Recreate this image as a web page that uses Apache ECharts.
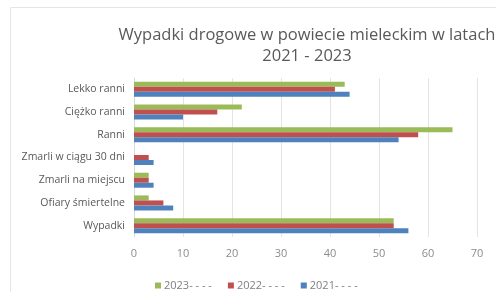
<!DOCTYPE html>
<html><head><meta charset="utf-8">
<script src="https://cdn.jsdelivr.net/npm/echarts@6/dist/echarts.min.js"></script>
<style>html,body{margin:0;padding:0;background:#fff}#c{width:496px;height:292px}</style>
</head><body><div id="c"></div>
<script>
const categories = ['Wypadki', 'Ofiary śmiertelne', 'Zmarli na miejscu', 'Zmarli w ciągu 30 dni', 'Ranni', 'Ciężko ranni', 'Lekko ranni'];
const seriesNames = ['2021- - - -', '2022- - - -', '2023- - - -'];
const values2021 = [56, 8, 4, 4, 54, 10, 44];
const values2022 = [53, 6, 3, 3, 58, 17, 41];
const values2023 = [53, 3, 3, 0, 65, 22, 43];
const xTicks = [0, 70, 10];

const chart = echarts.init(document.getElementById('c'), null, {renderer: 'canvas'});
const font = 'Open Sans';
chart.setOption({
  animation: false,
  title: {
    text: 'Wypadki drogowe w powiecie mieleckim w latach\n2021 - 2023',
    left: 302, top: 20, textAlign: 'center',
    textStyle: {fontFamily: font, fontSize: 16.5, fontWeight: 'normal', color: '#595959', lineHeight: 21}
  },
  graphic: [{type: 'polyline', shape: {points: [[10.5, 292], [10.5, 7.5], [496, 7.5]]}, style: {stroke: '#e6e6e6', lineWidth: 1, fill: null}}],
  legend: {
    data: [seriesNames[2], seriesNames[1], seriesNames[0]],
    left: 150, top: 275, itemWidth: 6, itemHeight: 6, itemGap: 16,
    icon: 'rect',
    textStyle: {fontFamily: font, fontSize: 11, color: '#7f7f7f', padding: [0, 0, 0, -2]}
  },
  grid: {left: 134, right: 19, top: 78, bottom: 55},
  xAxis: {
    type: 'value', min: xTicks[0], max: xTicks[1], interval: xTicks[2],
    axisLine: {show: false}, axisTick: {show: false},
    splitLine: {lineStyle: {color: '#e4e4e4'}},
    axisLabel: {fontFamily: font, fontSize: 11, color: '#8c8c8c', margin: 11}
  },
  yAxis: {
    type: 'category', data: categories,
    axisLine: {show: true, lineStyle: {color: '#d9d9d9'}}, axisTick: {show: false},
    axisLabel: {fontFamily: font, fontSize: 10.5, color: '#595959', margin: 9}
  },
  series: [
    {name: seriesNames[2], type: 'bar', data: values2023, itemStyle: {color: '#9BBB59'}, barGap: '0%', barCategoryGap: '34%'},
    {name: seriesNames[1], type: 'bar', data: values2022, itemStyle: {color: '#C0504D'}, barGap: '0%', barCategoryGap: '34%'},
    {name: seriesNames[0], type: 'bar', data: values2021, itemStyle: {color: '#4F81BD'}, barGap: '0%', barCategoryGap: '34%'}
  ]
});
</script></body></html>
